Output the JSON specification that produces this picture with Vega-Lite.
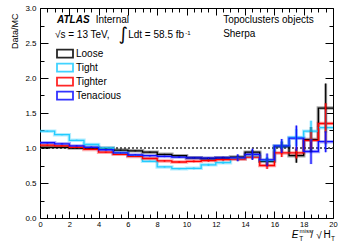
{
  "$schema": "https://vega.github.io/schema/vega-lite/v6.json",
  "width": 293,
  "height": 210,
  "autosize": {"type": "none"},
  "padding": {"left": 40, "top": 8, "right": 6, "bottom": 25},
  "background": "white",
  "config": {
    "view": {"stroke": "#000", "strokeWidth": 1},
    "font": "Liberation Sans",
    "axis": {"domain": false, "grid": false, "labelFont": "Liberation Sans", "labelFontSize": 8, "labelColor": "#000", "tickColor": "#000", "tickWidth": 1, "titleFont": "Liberation Sans", "titleFontWeight": "normal", "titleColor": "#000", "labelFlush": false, "labelOverlap": false, "labelBound": false},
    "legend": {"orient": "none", "legendX": 16, "legendY": 40, "title": null, "padding": 0,
               "symbolType": "M-1,-0.5H1V0.5H-1Z", "symbolSize": 256, "symbolStrokeWidth": 1.8, "symbolFillColor": "white", "symbolOpacity": 0.85,
               "labelFont": "Liberation Sans", "labelFontSize": 10, "labelColor": "#000", "labelOffset": 2, "rowPadding": 2, "clipHeight": 11.4}
  },
  "datasets": {
    "h": [
      {"s":"Loose","x0":0,"xc":0.5,"v":1.01,"e":0.005},
      {"s":"Loose","x0":1,"xc":1.5,"v":1.01,"e":0.005},
      {"s":"Loose","x0":2,"xc":2.5,"v":1.0,"e":0.005},
      {"s":"Loose","x0":3,"xc":3.5,"v":1.0,"e":0.005},
      {"s":"Loose","x0":4,"xc":4.5,"v":0.995,"e":0.005},
      {"s":"Loose","x0":5,"xc":5.5,"v":0.97,"e":0.005},
      {"s":"Loose","x0":6,"xc":6.5,"v":0.96,"e":0.005},
      {"s":"Loose","x0":7,"xc":7.5,"v":0.94,"e":0.005},
      {"s":"Loose","x0":8,"xc":8.5,"v":0.91,"e":0.006},
      {"s":"Loose","x0":9,"xc":9.5,"v":0.89,"e":0.007},
      {"s":"Loose","x0":10,"xc":10.5,"v":0.86,"e":0.008},
      {"s":"Loose","x0":11,"xc":11.5,"v":0.85,"e":0.01},
      {"s":"Loose","x0":12,"xc":12.5,"v":0.86,"e":0.012},
      {"s":"Loose","x0":13,"xc":13.5,"v":0.87,"e":0.02},
      {"s":"Loose","x0":14,"xc":14.5,"v":0.94,"e":0.03},
      {"s":"Loose","x0":15,"xc":15.5,"v":0.81,"e":0.05},
      {"s":"Loose","x0":16,"xc":16.5,"v":1.02,"e":0.07},
      {"s":"Loose","x0":17,"xc":17.5,"v":0.89,"e":0.1},
      {"s":"Loose","x0":18,"xc":18.5,"v":1.12,"e":0.18},
      {"s":"Loose","x0":19,"xc":19.5,"v":1.57,"e":0.35},
      {"s":"Loose","x0":20,"v":1.57},
      {"s":"Tight","x0":0,"xc":0.5,"v":1.24,"e":0.008},
      {"s":"Tight","x0":1,"xc":1.5,"v":1.19,"e":0.008},
      {"s":"Tight","x0":2,"xc":2.5,"v":1.11,"e":0.008},
      {"s":"Tight","x0":3,"xc":3.5,"v":1.05,"e":0.008},
      {"s":"Tight","x0":4,"xc":4.5,"v":1.0,"e":0.008},
      {"s":"Tight","x0":5,"xc":5.5,"v":0.93,"e":0.008},
      {"s":"Tight","x0":6,"xc":6.5,"v":0.89,"e":0.008},
      {"s":"Tight","x0":7,"xc":7.5,"v":0.81,"e":0.008},
      {"s":"Tight","x0":8,"xc":8.5,"v":0.73,"e":0.008},
      {"s":"Tight","x0":9,"xc":9.5,"v":0.705,"e":0.01},
      {"s":"Tight","x0":10,"xc":10.5,"v":0.71,"e":0.012},
      {"s":"Tight","x0":11,"xc":11.5,"v":0.76,"e":0.014},
      {"s":"Tight","x0":12,"xc":12.5,"v":0.79,"e":0.016},
      {"s":"Tight","x0":13,"xc":13.5,"v":0.85,"e":0.025},
      {"s":"Tight","x0":14,"xc":14.5,"v":0.88,"e":0.04},
      {"s":"Tight","x0":15,"xc":15.5,"v":0.82,"e":0.05},
      {"s":"Tight","x0":16,"xc":16.5,"v":1.03,"e":0.07},
      {"s":"Tight","x0":17,"xc":17.5,"v":1.15,"e":0.12},
      {"s":"Tight","x0":18,"xc":18.5,"v":1.24,"e":0.15},
      {"s":"Tight","x0":19,"xc":19.5,"v":1.29,"e":0.25},
      {"s":"Tight","x0":20,"v":1.29},
      {"s":"Tighter","x0":0,"xc":0.5,"v":1.04,"e":0.008},
      {"s":"Tighter","x0":1,"xc":1.5,"v":1.03,"e":0.008},
      {"s":"Tighter","x0":2,"xc":2.5,"v":1.01,"e":0.008},
      {"s":"Tighter","x0":3,"xc":3.5,"v":0.98,"e":0.008},
      {"s":"Tighter","x0":4,"xc":4.5,"v":0.94,"e":0.008},
      {"s":"Tighter","x0":5,"xc":5.5,"v":0.91,"e":0.008},
      {"s":"Tighter","x0":6,"xc":6.5,"v":0.88,"e":0.008},
      {"s":"Tighter","x0":7,"xc":7.5,"v":0.85,"e":0.008},
      {"s":"Tighter","x0":8,"xc":8.5,"v":0.815,"e":0.008},
      {"s":"Tighter","x0":9,"xc":9.5,"v":0.8,"e":0.01},
      {"s":"Tighter","x0":10,"xc":10.5,"v":0.81,"e":0.012},
      {"s":"Tighter","x0":11,"xc":11.5,"v":0.82,"e":0.014},
      {"s":"Tighter","x0":12,"xc":12.5,"v":0.835,"e":0.016},
      {"s":"Tighter","x0":13,"xc":13.5,"v":0.84,"e":0.02},
      {"s":"Tighter","x0":14,"xc":14.5,"v":0.87,"e":0.03},
      {"s":"Tighter","x0":15,"xc":15.5,"v":0.75,"e":0.05},
      {"s":"Tighter","x0":16,"xc":16.5,"v":0.93,"e":0.06},
      {"s":"Tighter","x0":17,"xc":17.5,"v":0.93,"e":0.08},
      {"s":"Tighter","x0":18,"xc":18.5,"v":1.11,"e":0.12},
      {"s":"Tighter","x0":19,"xc":19.5,"v":1.35,"e":0.29},
      {"s":"Tighter","x0":20,"v":1.35},
      {"s":"Tenacious","x0":0,"xc":0.5,"v":1.075,"e":0.01},
      {"s":"Tenacious","x0":1,"xc":1.5,"v":1.06,"e":0.01},
      {"s":"Tenacious","x0":2,"xc":2.5,"v":1.03,"e":0.01},
      {"s":"Tenacious","x0":3,"xc":3.5,"v":1.01,"e":0.01},
      {"s":"Tenacious","x0":4,"xc":4.5,"v":0.975,"e":0.01},
      {"s":"Tenacious","x0":5,"xc":5.5,"v":0.93,"e":0.01},
      {"s":"Tenacious","x0":6,"xc":6.5,"v":0.9,"e":0.01},
      {"s":"Tenacious","x0":7,"xc":7.5,"v":0.89,"e":0.01},
      {"s":"Tenacious","x0":8,"xc":8.5,"v":0.88,"e":0.01},
      {"s":"Tenacious","x0":9,"xc":9.5,"v":0.87,"e":0.012},
      {"s":"Tenacious","x0":10,"xc":10.5,"v":0.86,"e":0.012},
      {"s":"Tenacious","x0":11,"xc":11.5,"v":0.855,"e":0.012},
      {"s":"Tenacious","x0":12,"xc":12.5,"v":0.86,"e":0.015},
      {"s":"Tenacious","x0":13,"xc":13.5,"v":0.86,"e":0.05},
      {"s":"Tenacious","x0":14,"xc":14.5,"v":0.91,"e":0.08},
      {"s":"Tenacious","x0":15,"xc":15.5,"v":0.83,"e":0.09},
      {"s":"Tenacious","x0":16,"xc":16.5,"v":1.03,"e":0.1},
      {"s":"Tenacious","x0":17,"xc":17.5,"v":1.14,"e":0.18},
      {"s":"Tenacious","x0":18,"xc":18.5,"v":0.95,"e":0.18},
      {"s":"Tenacious","x0":19,"xc":19.5,"v":1.09,"e":0.15},
      {"s":"Tenacious","x0":20,"v":1.09}
    ]
  },
  "resolve": {"axis": {"x": "independent", "y": "independent"}},
  "layer": [
    {
      "data": {"values": [{}]},
      "mark": {"type": "rule", "color": "#666", "strokeDash": [2, 2], "strokeWidth": 2},
      "encoding": {
        "x": {"datum": 0, "type": "quantitative", "scale": {"domain": [0, 20], "nice": false, "zero": false},
              "axis": {"orient": "bottom", "values": [0,2,4,6,8,10,12,14,16,18,20], "format": "d", "ticks": false, "labelPadding": 2, "labelFontSize": 7.5, "title": null}},
        "x2": {"datum": 20},
        "y": {"datum": 1, "type": "quantitative", "scale": {"domain": [0, 3], "nice": false, "zero": false},
              "axis": {"orient": "left", "values": [0,0.5,1,1.5,2,2.5,3], "format": ".1f", "ticks": false, "labelPadding": 4,
                       "title": "Data/MC", "titleFontSize": 9, "titleAngle": -90, "titleAlign": "right", "titleBaseline": "alphabetic", "titleX": -23, "titleY": 5}}
      }
    },
    {
      "data": {"name": "h"},
      "mark": {"type": "line", "interpolate": "step-after", "strokeWidth": 3.5, "opacity": 0.35},
      "encoding": {
        "x": {"field": "x0", "type": "quantitative", "scale": {"domain": [0, 20], "nice": false, "zero": false},
              "axis": {"orient": "bottom", "values": [0,2,4,6,8,10,12,14,16,18,20], "labels": false, "tickSize": -7, "title": null}},
        "y": {"field": "v", "type": "quantitative", "scale": {"domain": [0, 3], "nice": false, "zero": false},
              "axis": {"orient": "left", "values": [0,0.5,1,1.5,2,2.5,3], "labels": false, "tickSize": -8, "title": null}},
        "color": {"field": "s", "type": "nominal", "scale": {"domain": ["Loose","Tight","Tighter","Tenacious"], "range": ["#000000","#22ccff","#ff0000","#1010ff"]}}
      }
    },
    {
      "data": {"name": "h"},
      "mark": {"type": "line", "interpolate": "step-after", "strokeWidth": 1.3},
      "encoding": {
        "x": {"field": "x0", "type": "quantitative", "scale": {"domain": [0, 20], "nice": false, "zero": false},
              "axis": {"orient": "bottom", "values": [0.5,1,1.5,2.5,3,3.5,4.5,5,5.5,6.5,7,7.5,8.5,9,9.5,10.5,11,11.5,12.5,13,13.5,14.5,15,15.5,16.5,17,17.5,18.5,19,19.5], "labels": false, "tickSize": -4, "title": null}},
        "y": {"field": "v", "type": "quantitative", "scale": {"domain": [0, 3], "nice": false, "zero": false},
              "axis": {"orient": "left", "values": [0.25,0.75,1.25,1.75,2.25,2.75], "labels": false, "tickSize": -4, "title": null}},
        "color": {"field": "s", "type": "nominal", "scale": {"domain": ["Loose","Tight","Tighter","Tenacious"], "range": ["#000000","#22ccff","#ff0000","#1010ff"]}}
      }
    },
    {
      "data": {"name": "h"},
      "transform": [{"filter": "datum.x0 < 20"}],
      "mark": {"type": "errorbar", "rule": {"strokeWidth": 3, "opacity": 0.35}},
      "encoding": {
        "x": {"field": "xc", "type": "quantitative", "scale": {"domain": [0, 20], "nice": false, "zero": false}, "axis": null},
        "y": {"field": "v", "type": "quantitative", "scale": {"domain": [0, 3], "nice": false, "zero": false}, "axis": null},
        "yError": {"field": "e"},
        "color": {"field": "s", "type": "nominal"}
      }
    },
    {
      "data": {"name": "h"},
      "transform": [{"filter": "datum.x0 < 20"}],
      "mark": {"type": "errorbar", "rule": {"strokeWidth": 1.2}},
      "encoding": {
        "x": {"field": "xc", "type": "quantitative", "scale": {"domain": [0, 20], "nice": false, "zero": false}, "axis": null},
        "y": {"field": "v", "type": "quantitative", "scale": {"domain": [0, 3], "nice": false, "zero": false}, "axis": null},
        "yError": {"field": "e"},
        "color": {"field": "s", "type": "nominal"}
      }
    },
    {
      "data": {"values": [
        {"t": "Internal", "x": 3.8, "y": 2.786},
        {"t": "√s = 13 TeV,", "x": 1.02, "y": 2.571},
        {"t": "Ldt = 58.5 fb", "x": 6.02, "y": 2.571},
        {"t": "Topoclusters objects", "x": 12.5, "y": 2.786},
        {"t": "Sherpa", "x": 12.5, "y": 2.586}
      ]},
      "mark": {"type": "text", "align": "left", "baseline": "alphabetic", "fontSize": 10, "font": "Liberation Sans", "color": "#000"},
      "encoding": {
        "x": {"field": "x", "type": "quantitative", "scale": {"domain": [0, 20], "nice": false, "zero": false},
              "axis": {"orient": "top", "values": [0,2,4,6,8,10,12,14,16,18,20], "labels": false, "tickSize": -7, "title": null}},
        "y": {"field": "y", "type": "quantitative", "scale": {"domain": [0, 3], "nice": false, "zero": false},
              "axis": {"orient": "right", "values": [0,0.5,1,1.5,2,2.5,3], "labels": false, "tickSize": -8, "title": null}},
        "text": {"field": "t"}
      }
    },
    {
      "data": {"values": [{"t": "ATLAS", "x": 1.16, "y": 2.786}]},
      "mark": {"type": "text", "align": "left", "baseline": "alphabetic", "fontSize": 10, "fontWeight": "bold", "fontStyle": "italic", "font": "Liberation Sans", "color": "#000"},
      "encoding": {
        "x": {"field": "x", "type": "quantitative", "scale": {"domain": [0, 20], "nice": false, "zero": false},
              "axis": {"orient": "top", "values": [0.5,1,1.5,2.5,3,3.5,4.5,5,5.5,6.5,7,7.5,8.5,9,9.5,10.5,11,11.5,12.5,13,13.5,14.5,15,15.5,16.5,17,17.5,18.5,19,19.5], "labels": false, "tickSize": -4, "title": null}},
        "y": {"field": "y", "type": "quantitative", "scale": {"domain": [0, 3], "nice": false, "zero": false},
              "axis": {"orient": "right", "values": [0.25,0.75,1.25,1.75,2.25,2.75], "labels": false, "tickSize": -4, "title": null}},
        "text": {"field": "t"}
      }
    },
    {
      "data": {"values": [{"t": "∫", "x": 5.35, "y": 2.54}]},
      "mark": {"type": "text", "align": "left", "baseline": "alphabetic", "fontSize": 18, "font": "DejaVu Sans", "color": "#000"},
      "encoding": {
        "x": {"field": "x", "type": "quantitative", "scale": {"domain": [0, 20], "nice": false, "zero": false}, "axis": null},
        "y": {"field": "y", "type": "quantitative", "scale": {"domain": [0, 3], "nice": false, "zero": false}, "axis": null},
        "text": {"field": "t"}
      }
    },
    {
      "data": {"values": [{"t": "-1", "x": 9.92, "y": 2.62}, {"t": "miss", "x": 17.72, "y": -0.215}]},
      "mark": {"type": "text", "align": "left", "baseline": "alphabetic", "fontSize": 6, "font": "Liberation Sans", "color": "#000"},
      "encoding": {
        "x": {"field": "x", "type": "quantitative", "scale": {"domain": [0, 20], "nice": false, "zero": false}, "axis": null},
        "y": {"field": "y", "type": "quantitative", "scale": {"domain": [0, 3], "nice": false, "zero": false}, "axis": null},
        "text": {"field": "t"}
      }
    },
    {
      "data": {"values": [{"t": "E", "x": 17.18, "y": -0.29}]},
      "mark": {"type": "text", "align": "left", "baseline": "alphabetic", "fontSize": 10, "fontStyle": "italic", "font": "Liberation Sans", "color": "#000"},
      "encoding": {
        "x": {"field": "x", "type": "quantitative", "scale": {"domain": [0, 20], "nice": false, "zero": false}, "axis": null},
        "y": {"field": "y", "type": "quantitative", "scale": {"domain": [0, 3], "nice": false, "zero": false}, "axis": null},
        "text": {"field": "t"}
      }
    },
    {
      "data": {"values": [{"t": "T", "x": 17.69, "y": -0.33}, {"t": "T", "x": 19.87, "y": -0.33}]},
      "mark": {"type": "text", "align": "left", "baseline": "alphabetic", "fontSize": 6.5, "font": "Liberation Sans", "color": "#000"},
      "encoding": {
        "x": {"field": "x", "type": "quantitative", "scale": {"domain": [0, 20], "nice": false, "zero": false}, "axis": null},
        "y": {"field": "y", "type": "quantitative", "scale": {"domain": [0, 3], "nice": false, "zero": false}, "axis": null},
        "text": {"field": "t"}
      }
    },
    {
      "data": {"values": [{"t": "/", "x": 18.47, "y": -0.29}, {"t": "√", "x": 18.85, "y": -0.3}, {"t": "H", "x": 19.36, "y": -0.29}]},
      "mark": {"type": "text", "align": "left", "baseline": "alphabetic", "fontSize": 10, "font": "Liberation Sans", "color": "#000"},
      "encoding": {
        "x": {"field": "x", "type": "quantitative", "scale": {"domain": [0, 20], "nice": false, "zero": false}, "axis": null},
        "y": {"field": "y", "type": "quantitative", "scale": {"domain": [0, 3], "nice": false, "zero": false}, "axis": null},
        "text": {"field": "t"}
      }
    }
  ]
}
